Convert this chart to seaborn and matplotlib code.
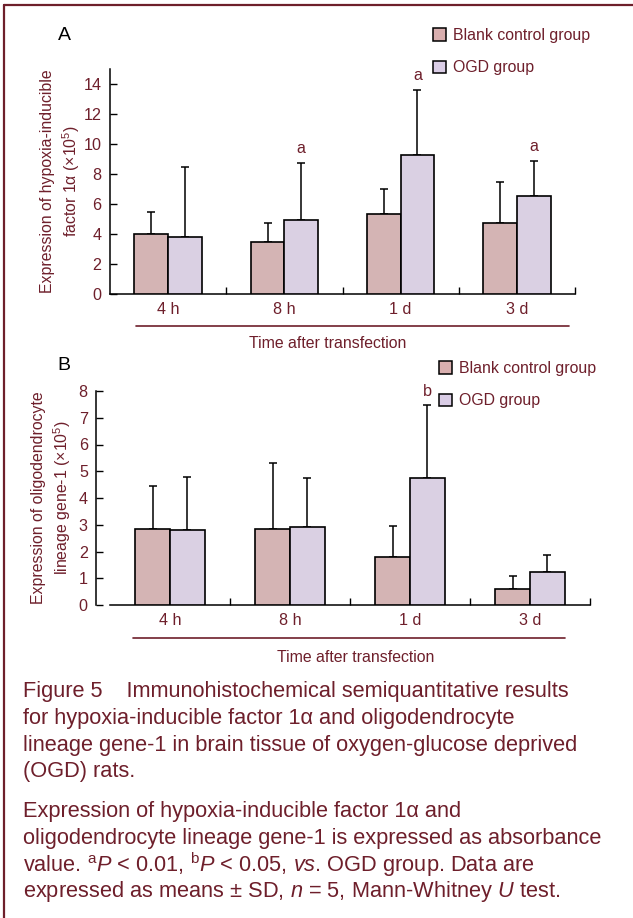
import matplotlib
matplotlib.use('Agg')
import matplotlib.pyplot as plt
import seaborn as sns
import pandas as pd
from matplotlib.patches import Patch
from matplotlib.lines import Line2D

# data
times = ['4 h', '8 h', '1 d', '3 d']
groups = ['Blank control group', 'OGD group']

hif_blank = [4.03, 3.50, 5.36, 4.76]
hif_blank_sd = [1.46, 1.26, 1.65, 2.71]
hif_ogd = [3.77, 4.92, 9.26, 6.55]
hif_ogd_sd = [4.67, 3.81, 4.36, 2.31]
hif_sig = ['', 'a', 'a', 'a']

olig_blank = [2.85, 2.85, 1.80, 0.60]
olig_blank_sd = [1.61, 2.46, 1.17, 0.49]
olig_ogd = [2.79, 2.93, 4.73, 1.24]
olig_ogd_sd = [1.98, 1.80, 2.73, 0.64]
olig_sig = ['', '', 'b', '']

caption_1 = ['Figure 5    Immunohistochemical semiquantitative results',
             'for hypoxia-inducible factor 1\u03b1 and oligodendrocyte',
             'lineage gene-1 in brain tissue of oxygen-glucose deprived',
             '(OGD) rats.']
caption_2 = ['Expression of hypoxia-inducible factor 1\u03b1 and',
             'oligodendrocyte lineage gene-1 is expressed as absorbance',
             r'value. $^{\mathrm{a}}\mathit{P}$ < 0.01, $^{\mathrm{b}}\mathit{P}$ < 0.05, $\mathit{vs}$. OGD group. Data are',
             'expressed as means \u00b1 SD, $\\mathit{n}$ = 5, Mann-Whitney $\\mathit{U}$ test.']

maroon = '#6E1F2B'
pink = '#D9AFAF'
lavender = '#DACDE6'

sns.set_theme(style='white')
plt.rcParams['font.family'] = ['Liberation Sans', 'DejaVu Sans']
plt.rcParams['mathtext.fontset'] = 'custom'
plt.rcParams['mathtext.rm'] = 'Liberation Sans'
plt.rcParams['mathtext.it'] = 'Liberation Sans:italic'
plt.rcParams['text.color'] = maroon

W, H = 633, 918
fig = plt.figure(figsize=(W / 100, H / 100), dpi=100)


def fx(px):
    return px / W


def fy(py):
    return 1 - py / H


def panel(ax, blank, blank_sd, ogd, ogd_sd, sig, ymax, ystep, ylabel, label_x):
    df = pd.DataFrame({'time': times * 2,
                       'group': [groups[0]] * 4 + [groups[1]] * 4,
                       'value': blank + ogd})
    sns.barplot(data=df, x='time', y='value', hue='group', order=times,
                hue_order=groups, palette=[pink, lavender], width=0.58,
                edgecolor='black', linewidth=1.2, errorbar=None,
                legend=False, ax=ax, zorder=3)
    # one-sided SD bars on top of each bar
    for cont, sd in zip(ax.containers, [blank_sd, ogd_sd]):
        xs = [b.get_x() + b.get_width() / 2 for b in cont]
        ys = [b.get_height() for b in cont]
        ax.errorbar(xs, ys, yerr=[[0] * len(sd), sd], fmt='none',
                    ecolor='black', elinewidth=1.1, capsize=3, capthick=1.1,
                    zorder=2)
    # significance letters over OGD bars
    for b, s, sd in zip(ax.containers[1], sig, ogd_sd):
        if s:
            ax.annotate(s, (b.get_x() + b.get_width() / 2, b.get_height() + sd),
                        xytext=(0, 5), textcoords='offset points',
                        ha='center', va='bottom', fontsize=11.6, color=maroon)
    ax.set_xlim(-0.5, 3.5)
    ax.set_ylim(0, ymax)
    ax.set_yticks(range(0, int(ymax) + 1, ystep))
    ax.set_xticks([0.5, 1.5, 2.5, 3.5], minor=True)
    ax.tick_params(axis='x', which='major', length=0, pad=6,
                   labelsize=11.6, labelcolor=maroon)
    ax.tick_params(axis='x', which='minor', direction='in', length=5,
                   width=1, color='black', bottom=True)
    ax.tick_params(axis='y', direction='in', length=5, width=1, pad=6,
                   color='black', labelsize=11.6, labelcolor=maroon, left=True)
    for side in ['top', 'right']:
        ax.spines[side].set_visible(False)
    for side in ['left', 'bottom']:
        ax.spines[side].set_color('black')
        ax.spines[side].set_linewidth(1.1)
    ax.set_xlabel('')
    ax.set_ylabel(ylabel, fontsize=11.4, color=maroon, linespacing=1.3)
    ax.yaxis.set_label_coords(label_x, 0.5)
    ax.set_facecolor('none')


# panel A
axA = fig.add_axes([fx(110), fy(294), fx(465), 225 / H])
panel(axA, hif_blank, hif_blank_sd, hif_ogd, hif_ogd_sd, hif_sig, 15, 2,
      'Expression of hypoxia-inducible\nfactor 1\u03b1 (\u00d710$^{5}$)', -0.06)

# panel B
axB = fig.add_axes([fx(110), fy(605), fx(480), 214 / H])
panel(axB, olig_blank, olig_blank_sd, olig_ogd, olig_ogd_sd, olig_sig, 8, 1,
      'Expression of oligodendrocyte\nlineage gene-1 (\u00d710$^{5}$)', -0.077)
axB.spines['left'].set_position(('outward', 10))

handles = [Patch(facecolor=pink, edgecolor='black', linewidth=1.1),
           Patch(facecolor=lavender, edgecolor='black', linewidth=1.1)]
for ax, lx, ly in [(axA, 433, 28), (axB, 439, 361)]:
    ax.legend(handles, groups, loc='upper left',
              bbox_to_anchor=(fx(lx), fy(ly)), bbox_transform=fig.transFigure,
              frameon=False, borderpad=0, borderaxespad=0, handlelength=0.82,
              handleheight=0.82, handletextpad=0.45, labelspacing=1.1,
              fontsize=11.4, labelcolor=maroon)

# panel letters, x titles and rules under the ticks
fig.text(fx(64), fy(35), 'A', fontsize=14, color='black', ha='center', va='center')
fig.text(fx(64), fy(366), 'B', fontsize=14, color='black', ha='center', va='center')
fig.add_artist(Line2D([fx(136), fx(569)], [fy(326), fy(326)], color=maroon, lw=1.2))
fig.add_artist(Line2D([fx(133), fx(565)], [fy(638), fy(638)], color=maroon, lw=1.2))
fig.text(fx(328), fy(344), 'Time after transfection', fontsize=11.4,
         color=maroon, ha='center', va='center')
fig.text(fx(356), fy(657), 'Time after transfection', fontsize=11.4,
         color=maroon, ha='center', va='center')

# caption
for i, line in enumerate(caption_1):
    fig.text(fx(23), fy(692 + 26.5 * i), line, fontsize=15.7, color=maroon,
             ha='left', va='center')
for i, line in enumerate(caption_2):
    fig.text(fx(23), fy(812 + 26.5 * i), line, fontsize=15.7, color=maroon,
             ha='left', va='center')

# frame lines on the top and left of the figure
fig.add_artist(Line2D([fx(4), 1], [fy(5), fy(5)], color=maroon, lw=1.6))
fig.add_artist(Line2D([fx(4), fx(4)], [fy(5), 0], color=maroon, lw=1.6))

fig.savefig('out.png', dpi=100)
